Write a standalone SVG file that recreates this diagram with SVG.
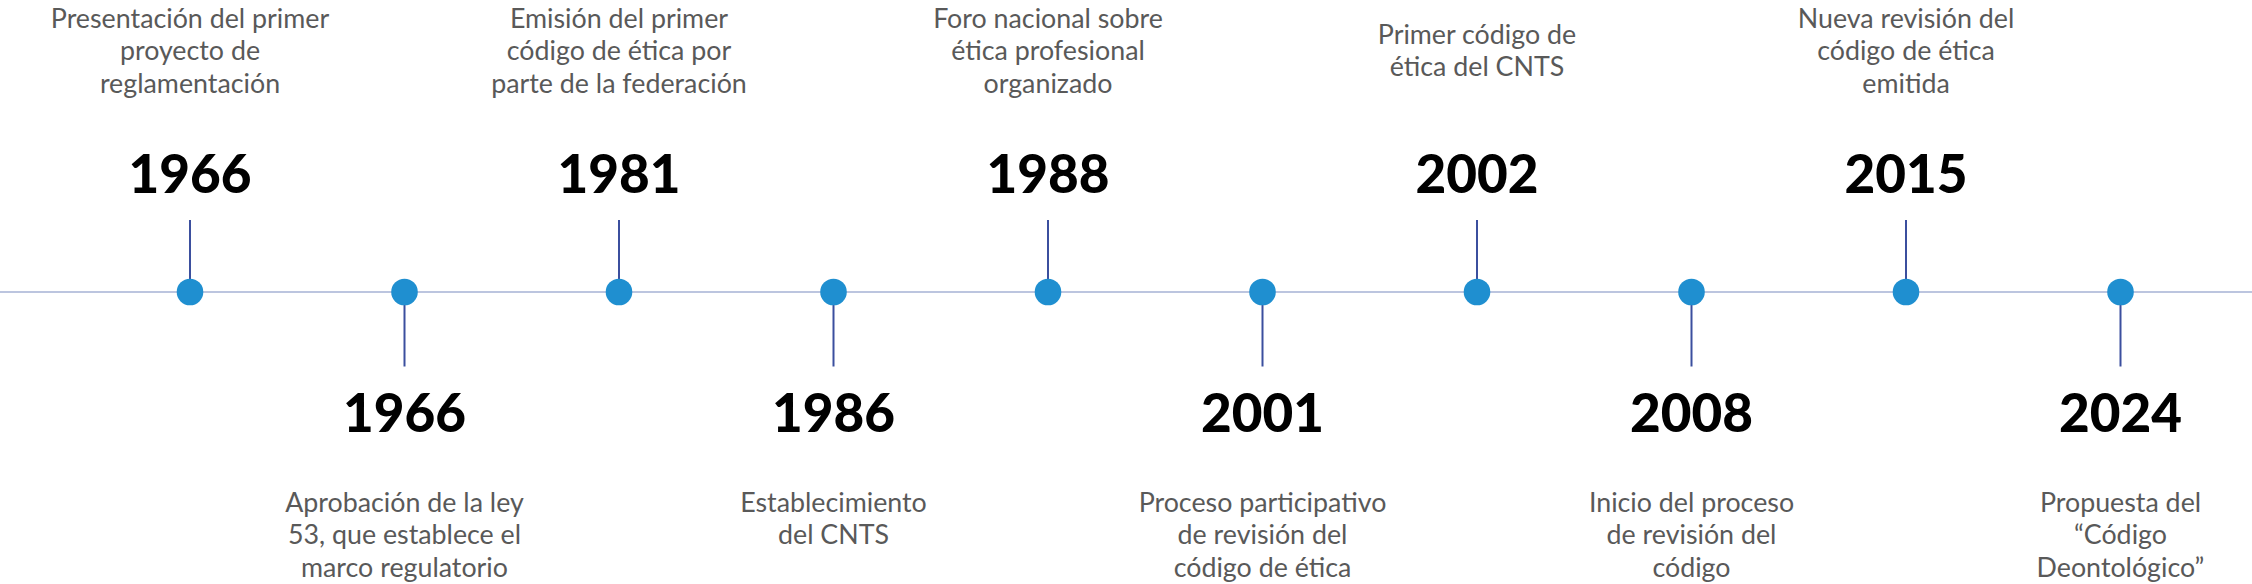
<svg xmlns="http://www.w3.org/2000/svg" width="2252" height="584" viewBox="0 0 2252 584">
<style>
.axis{stroke:#bcc5df;stroke-width:2;fill:none}
.stem{stroke:#3b4f9e;stroke-width:2;fill:none}
.dot{fill:#1f8fd0}
.yr{font-family:Lato,"Liberation Sans",sans-serif;font-weight:900;font-size:53px;fill:#000;text-anchor:middle}
.ds{font-family:Lato,"Liberation Sans",sans-serif;font-weight:400;font-size:26.8px;fill:#595959;text-anchor:middle}
</style>
<rect width="2252" height="584" fill="#fff"/>
<g id="connectors">
<line class="axis" x1="0" y1="292" x2="2252" y2="292"/>
</g>
<g id="n1966a">
<line class="stem" x1="190" y1="220" x2="190" y2="292"/>
<circle class="dot" cx="190" cy="292" r="13.3"/>
<text class="yr" x="190" y="193">1966</text>
<text class="ds" x="190" y="27.5">Presentación del primer</text>
<text class="ds" x="190" y="60">proyecto de</text>
<text class="ds" x="190" y="92.5">reglamentación</text>
</g>
<g id="n1966b">
<line class="stem" x1="404.5" y1="292" x2="404.5" y2="366.5"/>
<circle class="dot" cx="404.5" cy="292" r="13.3"/>
<text class="yr" x="404.5" y="432">1966</text>
<text class="ds" x="404.5" y="511.5">Aprobación de la ley</text>
<text class="ds" x="404.5" y="544">53, que establece el</text>
<text class="ds" x="404.5" y="576.5">marco regulatorio</text>
</g>
<g id="n1981">
<line class="stem" x1="619" y1="220" x2="619" y2="292"/>
<circle class="dot" cx="619" cy="292" r="13.3"/>
<text class="yr" x="619" y="193">1981</text>
<text class="ds" x="619" y="27.5">Emisión del primer</text>
<text class="ds" x="619" y="60">código de ética por</text>
<text class="ds" x="619" y="92.5">parte de la federación</text>
</g>
<g id="n1986">
<line class="stem" x1="833.5" y1="292" x2="833.5" y2="366.5"/>
<circle class="dot" cx="833.5" cy="292" r="13.3"/>
<text class="yr" x="833.5" y="432">1986</text>
<text class="ds" x="833.5" y="511.5">Establecimiento</text>
<text class="ds" x="833.5" y="544">del CNTS</text>
</g>
<g id="n1988">
<line class="stem" x1="1048" y1="220" x2="1048" y2="292"/>
<circle class="dot" cx="1048" cy="292" r="13.3"/>
<text class="yr" x="1048" y="193">1988</text>
<text class="ds" x="1048" y="27.5">Foro nacional sobre</text>
<text class="ds" x="1048" y="60">ética profesional</text>
<text class="ds" x="1048" y="92.5">organizado</text>
</g>
<g id="n2001">
<line class="stem" x1="1262.5" y1="292" x2="1262.5" y2="366.5"/>
<circle class="dot" cx="1262.5" cy="292" r="13.3"/>
<text class="yr" x="1262.5" y="432">2001</text>
<text class="ds" x="1262.5" y="511.5">Proceso participativo</text>
<text class="ds" x="1262.5" y="544">de revisión del</text>
<text class="ds" x="1262.5" y="576.5">código de ética</text>
</g>
<g id="n2002">
<line class="stem" x1="1477" y1="220" x2="1477" y2="292"/>
<circle class="dot" cx="1477" cy="292" r="13.3"/>
<text class="yr" x="1477" y="193">2002</text>
<text class="ds" x="1477" y="43.5">Primer código de</text>
<text class="ds" x="1477" y="76">ética del CNTS</text>
</g>
<g id="n2008">
<line class="stem" x1="1691.5" y1="292" x2="1691.5" y2="366.5"/>
<circle class="dot" cx="1691.5" cy="292" r="13.3"/>
<text class="yr" x="1691.5" y="432">2008</text>
<text class="ds" x="1691.5" y="511.5">Inicio del proceso</text>
<text class="ds" x="1691.5" y="544">de revisión del</text>
<text class="ds" x="1691.5" y="576.5">código</text>
</g>
<g id="n2015">
<line class="stem" x1="1906" y1="220" x2="1906" y2="292"/>
<circle class="dot" cx="1906" cy="292" r="13.3"/>
<text class="yr" x="1906" y="193">2015</text>
<text class="ds" x="1906" y="27.5">Nueva revisión del</text>
<text class="ds" x="1906" y="60">código de ética</text>
<text class="ds" x="1906" y="92.5">emitida</text>
</g>
<g id="n2024">
<line class="stem" x1="2120.5" y1="292" x2="2120.5" y2="366.5"/>
<circle class="dot" cx="2120.5" cy="292" r="13.3"/>
<text class="yr" x="2120.5" y="432">2024</text>
<text class="ds" x="2120.5" y="511.5">Propuesta del</text>
<text class="ds" x="2120.5" y="544">“Código</text>
<text class="ds" x="2120.5" y="576.5">Deontológico”</text>
</g>
</svg>
